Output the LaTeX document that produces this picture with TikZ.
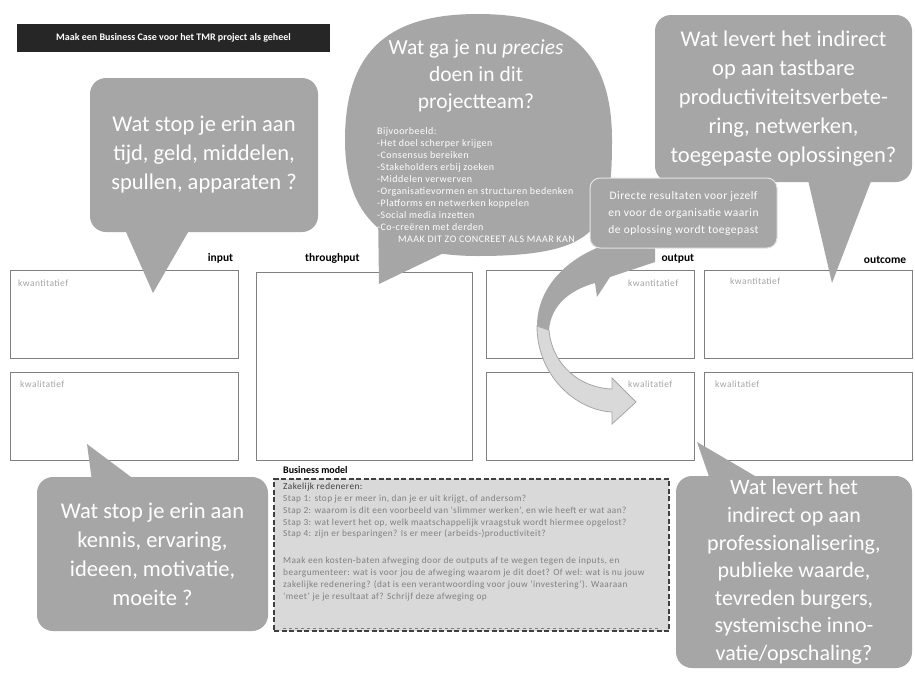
\documentclass[tikz,border=0pt]{standalone}
\usepackage{fontspec}
\setmainfont{Carlito}
\newfontfamily\spacedfont[LetterSpace=4.5]{Carlito}
\usetikzlibrary{positioning}

\definecolor{bubblegray}{RGB}{166,166,166}
\definecolor{boxline}{RGB}{128,128,128}
\definecolor{notegray}{RGB}{217,217,217}
\definecolor{hintgray}{RGB}{165,165,165}
\definecolor{barblack}{RGB}{38,38,38}
\definecolor{darkline}{RGB}{64,64,64}

\begin{document}
\begin{tikzpicture}[x=1pt, y=-1pt, node distance=6pt,
    bubble/.style={fill=bubblegray, rounded corners=16pt, text=white,
                   align=center, inner sep=0pt,
                   font=\fontsize{22.5}{29}\selectfont},
    cell/.style={draw=boxline, line width=1.4pt, fill=white,
                 anchor=north west, inner sep=0pt},
    hint/.style={text=hintgray, anchor=west, inner sep=0pt,
                 font=\spacedfont\fontsize{9.5}{10}\selectfont},
    colhead/.style={inner sep=0pt, font=\fontsize{11.5}{12}\selectfont\bfseries},
    smalltext/.style={text=white, align=left, inner sep=0pt,
                      font=\spacedfont\fontsize{10}{12}\selectfont},
    notetext/.style={text=boxline, align=left, inner sep=0pt,
                     font=\spacedfont\fontsize{9.3}{11.8}\selectfont}
  ]
  \fill[white] (0,0) rectangle (915,672);
  \useasboundingbox (0,0) rectangle (915,672);

  % title bar
  \node[fill=barblack, text=white, minimum width=313pt, minimum height=28pt,
        font=\fontsize{10}{11}\selectfont\bfseries] (title) at (173.5,38)
        {Maak een Business Case voor het TMR project als geheel};

  % the four columns
  \node[cell, minimum width=228pt, minimum height=88pt] (inTop) at (10,270) {};
  \node[cell, minimum width=228pt, minimum height=88pt] (inBot) at (10,372) {};
  \node[cell, minimum width=216pt, minimum height=188pt] (thru) at (256,272) {};
  \node[cell, minimum width=208pt, minimum height=88pt] (outTop) at (486,270) {};
  \node[cell, minimum width=208pt, minimum height=88pt] (outBot) at (486,372) {};
  \node[cell, minimum width=208pt, minimum height=88pt] (ocTop) at (704,270) {};
  \node[cell, minimum width=208pt, minimum height=88pt] (ocBot) at (704,372) {};

  \node[colhead, above left=6pt and 6pt of inTop.north east] (hIn) {input};
  \node[colhead, above right=8pt and 49pt of thru.north west] (hThru) {throughput};
  \node[colhead, above left=6pt and 1pt of outTop.north east] (hOut) {output};
  \node[colhead, above left=6pt and 7pt of ocTop.north east] (hOc) {outcome};

  \node[hint] (inTopHint) at (18,283) {kwantitatief};
  \node[hint] (inBotHint) at (20,384) {kwalitatief};
  \node[hint] (outTopHint) at (628,283) {kwantitatief};
  \node[hint] (outBotHint) at (628,384) {kwalitatief};
  \node[hint] (ocTopHint) at (730,281) {kwantitatief};
  \node[hint] (ocBotHint) at (715,384) {kwalitatief};

  % business model note
  \node[draw=darkline, fill=notegray, dashed, dash pattern=on 5pt off 2.5pt,
        line width=2pt, minimum width=395pt, minimum height=152pt,
        anchor=north west] (note) at (273,478) {};
  \node[colhead, font=\fontsize{10}{11}\selectfont\bfseries,
        above right=4pt and 10pt of note.north west] (hNote) {Business model};
  \node[notetext, anchor=north west] (noteText) at (283,483)
    {{\color{darkline}Zakelijk redeneren:}\\
     Stap 1: stop je er meer in, dan je er uit krijgt, of andersom?\\
     Stap 2: waarom is dit een voorbeeld van ‘slimmer werken’, en wie heeft er wat aan?\\
     Stap 3: wat levert het op, welk maatschappelijk vraagstuk wordt hiermee opgelost?\\
     Stap 4: zijn er besparingen? Is er meer (arbeids-)productiviteit?\\[15pt]
     Maak een kosten-baten afweging door de outputs af te wegen tegen de inputs, en\\
     beargumenteer: wat is voor jou de afweging waarom je dit doet? Of wel: wat is nu jouw\\
     zakelijke redenering? (dat is een verantwoording voor jouw ‘investering’). Waaraan\\
     ‘meet’ je je resultaat af? Schrijf deze afweging op};
  \draw[boxline, dashed, line width=0.6pt]
    ([xshift=10pt, yshift=4pt]note.south west) -- ([xshift=-11pt, yshift=4pt]note.south east);

  % bubbles
  \node[bubble, minimum width=228pt, minimum height=154pt] (askIn) at (204,155)
    {Wat stop je erin aan\\tijd, geld, middelen,\\spullen, apparaten ?};
  \coordinate (askInTip) at (153,293);
  \fill[bubblegray] ([xshift=35pt, yshift=3pt]askIn.south west) -- (askInTip)
    -- ([xshift=100pt, yshift=3pt]askIn.south west) -- cycle;

  \fill[bubblegray] (345,140) .. controls (345,45) and (395,14) .. (478,14)
    .. controls (561,14) and (612,45) .. (612,140)
    .. controls (612,225) and (602,256) .. (478,256)
    .. controls (395,256) and (345,225) .. (345,140) -- cycle;
  \coordinate (askDoTip) at (379,284);
  \fill[bubblegray] (378,212) -- (askDoTip) -- (450,250) -- cycle;
  \node[bubble, fill=none, font=\fontsize{21.5}{27}\selectfont, anchor=north]
    (askDo) at (476,40) {Wat ga je nu \emph{precies}\\doen in dit\\projectteam?};
  \node[smalltext, anchor=north west] (doList) at (377,127)
    {Bijvoorbeeld:\\
     -Het doel scherper krijgen\\
     -Consensus bereiken\\
     -Stakeholders erbij zoeken\\
     -Middelen verwerven\\
     -Organisatievormen en structuren bedenken\\
     -Platforms en netwerken koppelen\\
     -Social media inzetten\\
     -Co-creëren met derden\\
     \hspace*{21pt}MAAK DIT ZO CONCREET ALS MAAR KAN};

  \node[bubble, minimum width=257pt, minimum height=167pt] (askOut) at (783.5,98.5)
    {Wat levert het indirect\\op aan tastbare\\productiviteitsverbete-\\ring, netwerken,\\toegepaste oplossingen?};
  \coordinate (askOutTip) at (832,283);
  \fill[bubblegray] ([xshift=153pt, yshift=3pt]askOut.south west) -- (askOutTip)
    -- ([xshift=217pt, yshift=3pt]askOut.south west) -- cycle;

  \node[bubble, minimum width=231pt, minimum height=154pt] (askKnow) at (152.5,554)
    {Wat stop je erin aan\\kennis, ervaring,\\ideeen, motivatie,\\moeite ?};
  \coordinate (askKnowTip) at (87,444);
  \fill[bubblegray] ([xshift=55pt, yshift=-3pt]askKnow.north west) -- (askKnowTip)
    -- ([xshift=98pt, yshift=-3pt]askKnow.north west) -- cycle;

  \node[bubble, minimum width=236pt, minimum height=192pt,
        font=\fontsize{22}{27.6}\selectfont] (askValue) at (794,572)
    {Wat levert het\\indirect op aan\\professionalisering,\\publieke waarde,\\tevreden burgers,\\systemische inno-\\vatie/opschaling?};
  \coordinate (askValueTip) at (697,442);
  \fill[bubblegray] ([xshift=34pt, yshift=-3pt]askValue.north west) -- (askValueTip)
    -- ([xshift=84pt, yshift=-3pt]askValue.north west) -- cycle;

  % curved arrow
  \fill[bubblegray] (655,236) .. controls (585,238) and (537,278) .. (537,326)
    -- (549,330) .. controls (551,305) and (570,290) .. (595,283)
    -- (597,297) -- (610,277) -- (655,262) -- cycle;
  \filldraw[fill=notegray, draw=bubblegray, line width=0.8pt]
    (537,326) .. controls (537,375) and (575,410) .. (612,412)
    -- (612,424) -- (636,402) -- (612,378) -- (612,389)
    .. controls (580,388) and (552,365) .. (549,330) -- cycle;

  \node[fill=bubblegray, draw=white!70!bubblegray, line width=1pt,
        rounded corners=10pt, minimum width=187pt, minimum height=70pt,
        text=white, align=center, font=\spacedfont\fontsize{11.5}{17}\selectfont]
    (direct) at (683.5,213)
    {Directe resultaten voor jezelf\\en voor de organisatie waarin\\de oplossing wordt toegepast};
\end{tikzpicture}
\end{document}
